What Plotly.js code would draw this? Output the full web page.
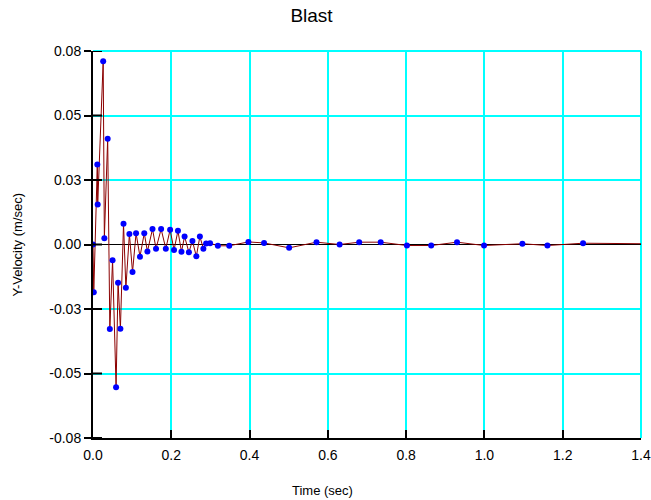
<!DOCTYPE html>
<html>
<head>
<meta charset="utf-8">
<script src="https://cdn.plot.ly/plotly-3.0.1.min.js"></script>
<style>html,body{margin:0;padding:0;background:#fff;}#chart{width:651px;height:500px;}</style>
</head>
<body>
<div id="chart"></div>
<script>
const timeSec = [0, 0.002, 0.011, 0.012, 0.026, 0.029, 0.0375, 0.043, 0.050, 0.059, 0.064, 0.070, 0.078, 0.084, 0.093, 0.101, 0.110, 0.120, 0.131, 0.139, 0.152, 0.161, 0.174, 0.186, 0.197, 0.207, 0.217, 0.226, 0.234, 0.245, 0.254, 0.264, 0.273, 0.282, 0.289, 0.299, 0.319, 0.348, 0.397, 0.437, 0.501, 0.571, 0.630, 0.680, 0.735, 0.802, 0.864, 0.930, 0.999, 1.097, 1.161, 1.252, 1.4];
const yVelocity = [0, -0.0185, 0.031, 0.0155, 0.071, 0.0024, 0.041, -0.0328, -0.0061, -0.0553, -0.0148, -0.0327, 0.008, -0.0168, 0.0041, -0.0107, 0.0044, -0.0047, 0.0044, -0.0027, 0.006, -0.0016, 0.006, -0.0016, 0.0057, -0.0021, 0.0053, -0.0028, 0.0031, -0.003, 0.0014, -0.0046, 0.0031, -0.0016, 0.0004, 0.0005, -0.0005, -0.0005, 0.001, 0.0006, -0.0013, 0.0009, 0, 0.0009, 0.0009, -0.0004, -0.0004, 0.0009, -0.0004, 0.0003, -0.0004, 0.0005, 0.0003];
const yTickVals = [-0.075, -0.05, -0.025, 0, 0.025, 0.05, 0.075];
const yTickText = ['-0.08', '-0.05', '-0.03', '0.00', '0.03', '0.05', '0.08'];
const xTickVals = [0, 0.2, 0.4, 0.6, 0.8, 1.0, 1.2, 1.4];
const xTickText = ['0.0', '0.2', '0.4', '0.6', '0.8', '1.0', '1.2', '1.4'];
const chartTitle = 'Blast';
const xTitle = 'Time (sec)';
const yTitle = 'Y-Velocity (m/sec)';

const markerSizes = timeSec.map((t, i) => i === timeSec.length - 1 ? 0 : 6);

const fam = 'Liberation Sans, Arial, sans-serif';

const trace = {
  x: timeSec, y: yVelocity, type: 'scatter', mode: 'lines+markers',
  line: {color: '#8B0000', width: 1},
  marker: {color: '#0000FF', size: markerSizes, opacity: 1, line: {width: 0}},
  hoverinfo: 'x+y', showlegend: false
};

// inner halves of the crossing y-axis ticks
const innerTicks = yTickVals.map(v => ({
  type: 'line', xref: 'paper', xsizemode: 'pixel', xanchor: 0, x0: 0, x1: 9,
  yref: 'y', y0: v, y1: v, line: {color: '#000', width: 2}, layer: 'above'
}));

const layout = {
  width: 651, height: 500,
  margin: {l: 93, r: 10, t: 51, b: 62, pad: 0},
  paper_bgcolor: '#fff', plot_bgcolor: '#fff',
  font: {family: fam, size: 13, color: '#000'},
  showlegend: false,
  title: {text: chartTitle, x: 0.4785, xref: 'container', xanchor: 'center', y: 0.97, yref: 'container', yanchor: 'middle', font: {family: fam, size: 19, color: '#000'}},
  xaxis: {
    range: [0, 1.4], tickvals: xTickVals, ticktext: xTickText,
    showgrid: true, gridcolor: '#00FFFF', gridwidth: 2,
    zeroline: false, showline: true, linecolor: '#000', linewidth: 2,
    ticks: 'inside', ticklen: 8, tickwidth: 2, tickcolor: '#000',
    ticklabelstandoff: 3,
    tickfont: {family: fam, size: 14, color: '#000'},
    fixedrange: true
  },
  yaxis: {
    range: [-0.075, 0.075], tickvals: yTickVals, ticktext: yTickText,
    showgrid: true, gridcolor: '#00FFFF', gridwidth: 2,
    zeroline: true, zerolinecolor: '#000', zerolinewidth: 1,
    showline: true, linecolor: '#000', linewidth: 2,
    ticks: 'outside', ticklen: 7, tickwidth: 2, tickcolor: '#000',
    tickfont: {family: fam, size: 14, color: '#000'},
    fixedrange: true
  },
  shapes: [
    {type: 'line', xref: 'paper', yref: 'paper', x0: 0, x1: 1, y0: 1, y1: 1, line: {color: '#00FFFF', width: 2}, layer: 'below'},
    {type: 'line', xref: 'paper', yref: 'paper', x0: 1, x1: 1, y0: 0, y1: 1, line: {color: '#00FFFF', width: 2}, layer: 'below'}
  ].concat(innerTicks),
  annotations: [
    {text: xTitle, xref: 'paper', yref: 'paper', x: 0.418, y: 0, yshift: -52, xanchor: 'center', yanchor: 'middle', showarrow: false, font: {family: fam, size: 13, color: '#000'}},
    {text: yTitle, xref: 'paper', yref: 'paper', x: 0, xshift: -76, y: 0.5, textangle: -90, xanchor: 'center', yanchor: 'middle', showarrow: false, font: {family: fam, size: 13, color: '#000'}}
  ]
};

Plotly.newPlot('chart', [trace], layout, {staticPlot: true, displayModeBar: false});
</script>
</body>
</html>
